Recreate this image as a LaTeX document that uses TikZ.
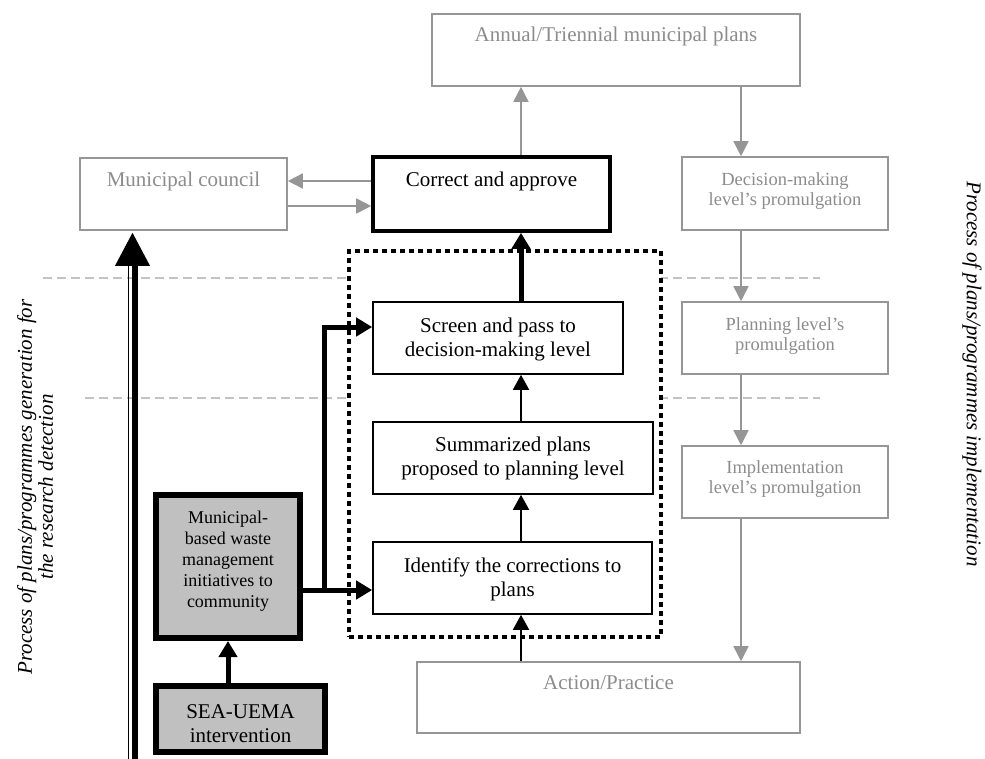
\documentclass[tikz,border=0pt]{standalone}
\usepackage{fontspec}
\setmainfont{Liberation Serif}
\usetikzlibrary{arrows.meta,calc}

\definecolor{gline}{RGB}{150,150,150}
\definecolor{gtext}{RGB}{140,140,140}
\definecolor{gdash}{RGB}{195,195,195}
\definecolor{gfill}{RGB}{192,192,192}

\tikzset{
  gbox/.style={draw=gline, line width=1.6pt, inner sep=0pt},
  bbox/.style={draw=black, line width=1.6pt, inner sep=0pt},
  cbox/.style={draw=black, line width=3.6pt, inner sep=0pt},
  fbox/.style={draw=black, fill=gfill, line width=6pt, inner sep=0pt},
  bigtxt/.style={font=\fontsize{21}{24}\selectfont, align=center, inner sep=0pt},
  gtxt/.style={bigtxt, text=gtext},
  gsmall/.style={font=\fontsize{18.5}{20.5}\selectfont, align=center, inner sep=0pt, text=gtext},
  fsmall/.style={font=\fontsize{18}{21}\selectfont, align=center, inner sep=0pt},
  garrow/.style={draw=gline, line width=1.6pt, -{Triangle[length=15pt,width=15pt]}},
  barrow/.style={draw=black, line width=1.6pt, -{Triangle[length=15pt,width=16pt]}},
  tarrow/.style={draw=black, line width=5pt, line join=miter, -{Triangle[length=16pt,width=18pt]}},
  divider/.style={draw=gdash, line width=1.6pt, dash pattern=on 9pt off 5pt},
  sidetxt/.style={font=\fontsize{21}{21}\selectfont\itshape, align=center, inner sep=0pt}
}

\begin{document}
\begin{tikzpicture}[x=1pt, y=-1pt]
\useasboundingbox (0,0) rectangle (985,758);

% level dividers
\coordinate (d1a) at (43,278);   \coordinate (d1b) at (820,278);
\coordinate (d2a) at (85,398);   \coordinate (d2b) at (820,398);
\draw[divider] (d1a) -- (d1b);
\draw[divider] (d2a) -- (d2b);

% dotted frame around the planning steps
\node[draw=black, fill=white, line width=4.6pt, dash pattern=on 4.6pt off 4.4pt,
      minimum width=312pt, minimum height=386pt, inner sep=0pt] (frame) at (505,444) {};

% grey implementation boxes
\node[gbox, minimum width=368pt, minimum height=72pt] (annual) at (616,50) {};
\node[gtxt] (annual-t) at (616,36) {Annual/Triennial municipal plans};

\node[gbox, minimum width=207pt, minimum height=72pt] (council) at (183.5,194) {};
\node[gtxt] (council-t) at (183.5,181) {Municipal council};

\node[gbox, minimum width=206pt, minimum height=73pt] (decision) at (785,193.5) {};
\node[gsmall] (decision-t) at (785,191) {Decision-making\\level’s promulgation};

\node[gbox, minimum width=206pt, minimum height=72pt] (planning) at (785,338) {};
\node[gsmall] (planning-t) at (785,336) {Planning level’s\\promulgation};

\node[gbox, minimum width=206pt, minimum height=72pt] (impl) at (785,482) {};
\node[gsmall] (impl-t) at (785,479) {Implementation\\level’s promulgation};

\node[gbox, minimum width=383pt, minimum height=71pt] (action) at (608.5,697.5) {};
\node[gtxt] (action-t) at (608.5,683) {Action/Practice};

% black planning boxes
\node[cbox, minimum width=237pt, minimum height=74pt] (correct) at (491.5,194) {};
\node[bigtxt] (correct-t) at (491.5,181) {Correct and approve};

\node[bbox, minimum width=250pt, minimum height=72pt] (screen) at (498,338) {};
\node[bigtxt] (screen-t) at (498,339) {Screen and pass to\\decision-making level};

\node[bbox, minimum width=280pt, minimum height=72pt] (summ) at (513,458) {};
\node[bigtxt] (summ-t) at (513,458) {Summarized plans\\proposed to planning level};

\node[bbox, minimum width=279pt, minimum height=72pt] (ident) at (512.5,578) {};
\node[bigtxt] (ident-t) at (512.5,579) {Identify the corrections to\\plans};

% filled intervention boxes
\node[fbox, minimum width=144pt, minimum height=143pt] (muni) at (228,566.5) {};
\node[fsmall] (muni-t) at (228,561) {Municipal-\\based waste\\management\\initiatives to\\community};

\node[fbox, minimum width=169pt, minimum height=66pt] (sea) at (240.5,719) {};
\node[bigtxt] (sea-t) at (240.5,724) {SEA-UEMA\\intervention};

% side captions
\node[sidetxt, rotate=90] (lcap) at (35,487)
  {Process of plans/programmes generation for\\the research detection};
\node[sidetxt, rotate=-90] (rcap) at (972,374)
  {Process of plans/programmes implementation};

% guide coordinates for connector positions
\coordinate (spine) at (521,0);
\coordinate (rspine) at (741,0);
\coordinate (upper) at (0,181);
\coordinate (lower) at (0,206);
\coordinate (midy) at (0,590);
\coordinate (sy) at (0,327);
\coordinate (branch) at (324,590);
\coordinate (lx) at (132.5,0);
\coordinate (bottom) at (0,770);

% grey flow
\draw[garrow] (correct.north -| spine) -- (annual.south -| spine);
\draw[garrow] (annual.south -| rspine) -- (decision.north -| rspine);
\draw[garrow] (decision.south -| rspine) -- (planning.north -| rspine);
\draw[garrow] (planning.south -| rspine) -- (impl.north -| rspine);
\draw[garrow] (impl.south -| rspine) -- (action.north -| rspine);
\draw[garrow] (correct.west |- upper) -- (council.east |- upper);
\draw[garrow] (council.east |- lower) -- (correct.west |- lower);

% black flow
\draw[barrow] (action.north -| spine) -- (ident.south -| spine);
\draw[barrow] (ident.north -| spine) -- (summ.south -| spine);
\draw[barrow] (summ.north -| spine) -- (screen.south -| spine);
\draw[tarrow] (screen.north -| spine) -- (correct.south -| spine);
\draw[tarrow] (sea.north -| muni.south) -- (muni.south);
\draw[tarrow] (muni.east |- midy) -- (ident.west |- midy);
\draw[tarrow] (branch) -- (branch |- sy) -- (screen.west |- sy);

% double shaft arrow into the municipal council
\draw[line width=1pt] ($(council.south -| lx)+(-4,30)$) -- ($(bottom -| lx)+(-4,0)$);
\draw[line width=6pt] ($(council.south -| lx)+(2.5,30)$) -- ($(bottom -| lx)+(2.5,0)$);
\fill ($(council.south -| lx)+(0,2)$) -- ++(-17.5,33) -- ++(35,0) -- cycle;
\end{tikzpicture}
\end{document}
